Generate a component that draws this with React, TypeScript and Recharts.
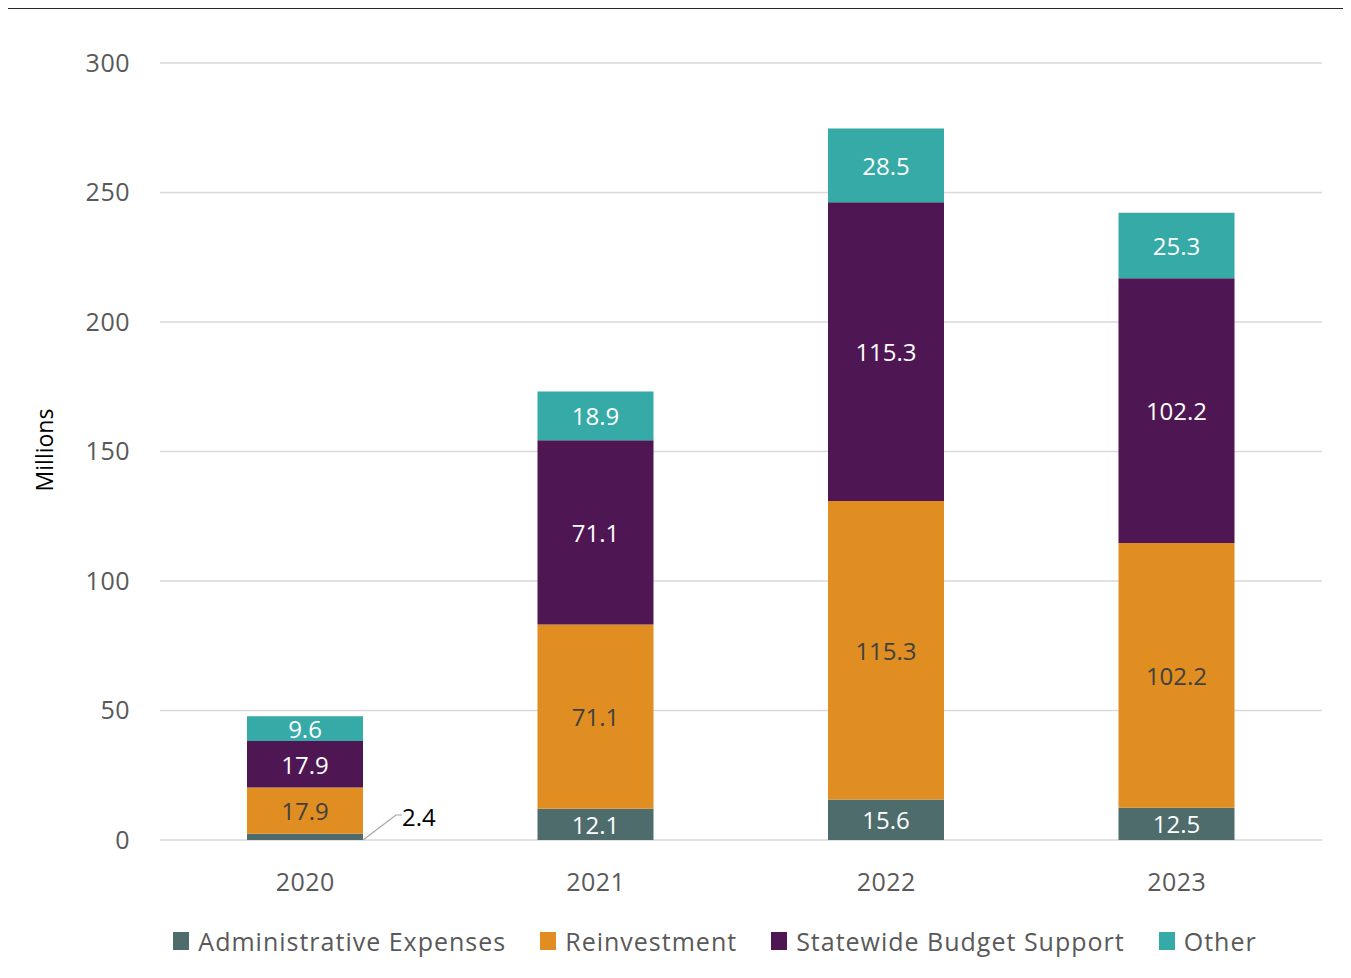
import React from 'react';
import { BarChart, Bar, XAxis, YAxis, CartesianGrid, Legend, LabelList, Label } from 'recharts';

const years = ['2020', '2021', '2022', '2023'];
const adminExpenses = [2.4, 12.1, 15.6, 12.5];
const reinvestment = [17.9, 71.1, 115.3, 102.2];
const statewideSupport = [17.9, 71.1, 115.3, 102.2];
const other = [9.6, 18.9, 28.5, 25.3];
const yTicks = [0, 50, 100, 150, 200, 250, 300];

const FONT = '"Open Sans", sans-serif';

const series = [
  { key: 'admin', name: 'Administrative Expenses', color: '#4e6c6c', labelColor: '#ffffff' },
  { key: 'reinvest', name: 'Reinvestment', color: '#e08e21', labelColor: '#404040' },
  { key: 'statewide', name: 'Statewide Budget Support', color: '#4e1653', labelColor: '#ffffff' },
  { key: 'other', name: 'Other', color: '#35aaa7', labelColor: '#ffffff' },
];

const data = years.map((year, i) => ({
  year,
  admin: adminExpenses[i],
  reinvest: reinvestment[i],
  statewide: statewideSupport[i],
  other: other[i],
}));

const makeLabel = (color: string) => (props: any) => {
  const { x, y, width, height, value } = props;
  if (value == null) return null;
  // tiny segments get a callout to the right
  if (height < 14) {
    const bx = x + width;
    const by = y + height;
    return (
      <g>
        <polyline
          points={`${bx},${by} ${bx + 33},${by - 25} ${bx + 39},${by - 25}`}
          fill="none"
          stroke="#a6a6a6"
          strokeWidth={1.2}
        />
        <text x={bx + 39} y={by - 24} fill="#000" fontSize={24} fontFamily={FONT} dominantBaseline="central">
          {value}
        </text>
      </g>
    );
  }
  return (
    <text
      x={x + width / 2}
      y={y + height / 2}
      fill={color}
      fontSize={24}
      fontFamily={FONT}
      textAnchor="middle"
      dominantBaseline="central"
    >
      {value}
    </text>
  );
};

const renderLegend = () => (
  <div
    style={{
      height: 36,
      display: 'flex',
      justifyContent: 'center',
      alignItems: 'center',
      paddingLeft: 108,
      boxSizing: 'border-box',
      fontFamily: FONT,
      fontSize: 25,
      letterSpacing: 1,
      color: '#595959',
    }}
  >
    {series.map((s) => (
      <div key={s.key} style={{ display: 'flex', alignItems: 'center', marginRight: 34 }}>
        <span style={{ width: 16, height: 18, background: s.color, marginRight: 9, display: 'inline-block' }} />
        <span>{s.name}</span>
      </div>
    ))}
  </div>
);

export default function App() {
  return (
    <div style={{ position: 'relative', width: 1340, height: 962 }}>
      <BarChart width={1340} height={962} data={data} margin={{ top: 55, right: 26, left: 0, bottom: 44 }}>
        <CartesianGrid vertical={false} stroke="#d9d9d9" strokeWidth={1.5} />
        <XAxis
          dataKey="year"
          axisLine={false}
          tickLine={false}
          height={50}
          tickMargin={27}
          tick={{ fontSize: 25, fill: '#595959', fontFamily: FONT, letterSpacing: 0.5 }}
        />
        <YAxis
          width={152}
          domain={[0, 300]}
          ticks={yTicks}
          axisLine={false}
          tickLine={false}
          tickMargin={24}
          tick={{ fontSize: 25, fill: '#595959', fontFamily: FONT, letterSpacing: 0.5 }}
        >
          <Label
            content={() => (
              <text
                x={36}
                y={442}
                transform="rotate(-90 36 442)"
                textAnchor="middle"
                dominantBaseline="central"
                fontSize={23}
                fontFamily={FONT}
                fill="#000"
              >
                Millions
              </text>
            )}
          />
        </YAxis>
        <Legend
          content={renderLegend}
          verticalAlign="bottom"
          wrapperStyle={{ top: 915, left: 0, width: 1340, bottom: 'auto' }}
        />
        {series.map((s) => (
          <Bar key={s.key} dataKey={s.key} name={s.name} stackId="a" fill={s.color} barSize={116} isAnimationActive={false}>
            <LabelList dataKey={s.key} content={makeLabel(s.labelColor)} />
          </Bar>
        ))}
      </BarChart>
      {/* outer frame, open at the bottom */}
      <div
        style={{
          position: 'absolute',
          left: -1,
          top: 0,
          width: 1340,
          height: 962,
          borderTop: '1px solid #262626',
          borderLeft: '1px solid #262626',
          borderRight: '1px solid #262626',
          pointerEvents: 'none',
        }}
      />
    </div>
  );
}
